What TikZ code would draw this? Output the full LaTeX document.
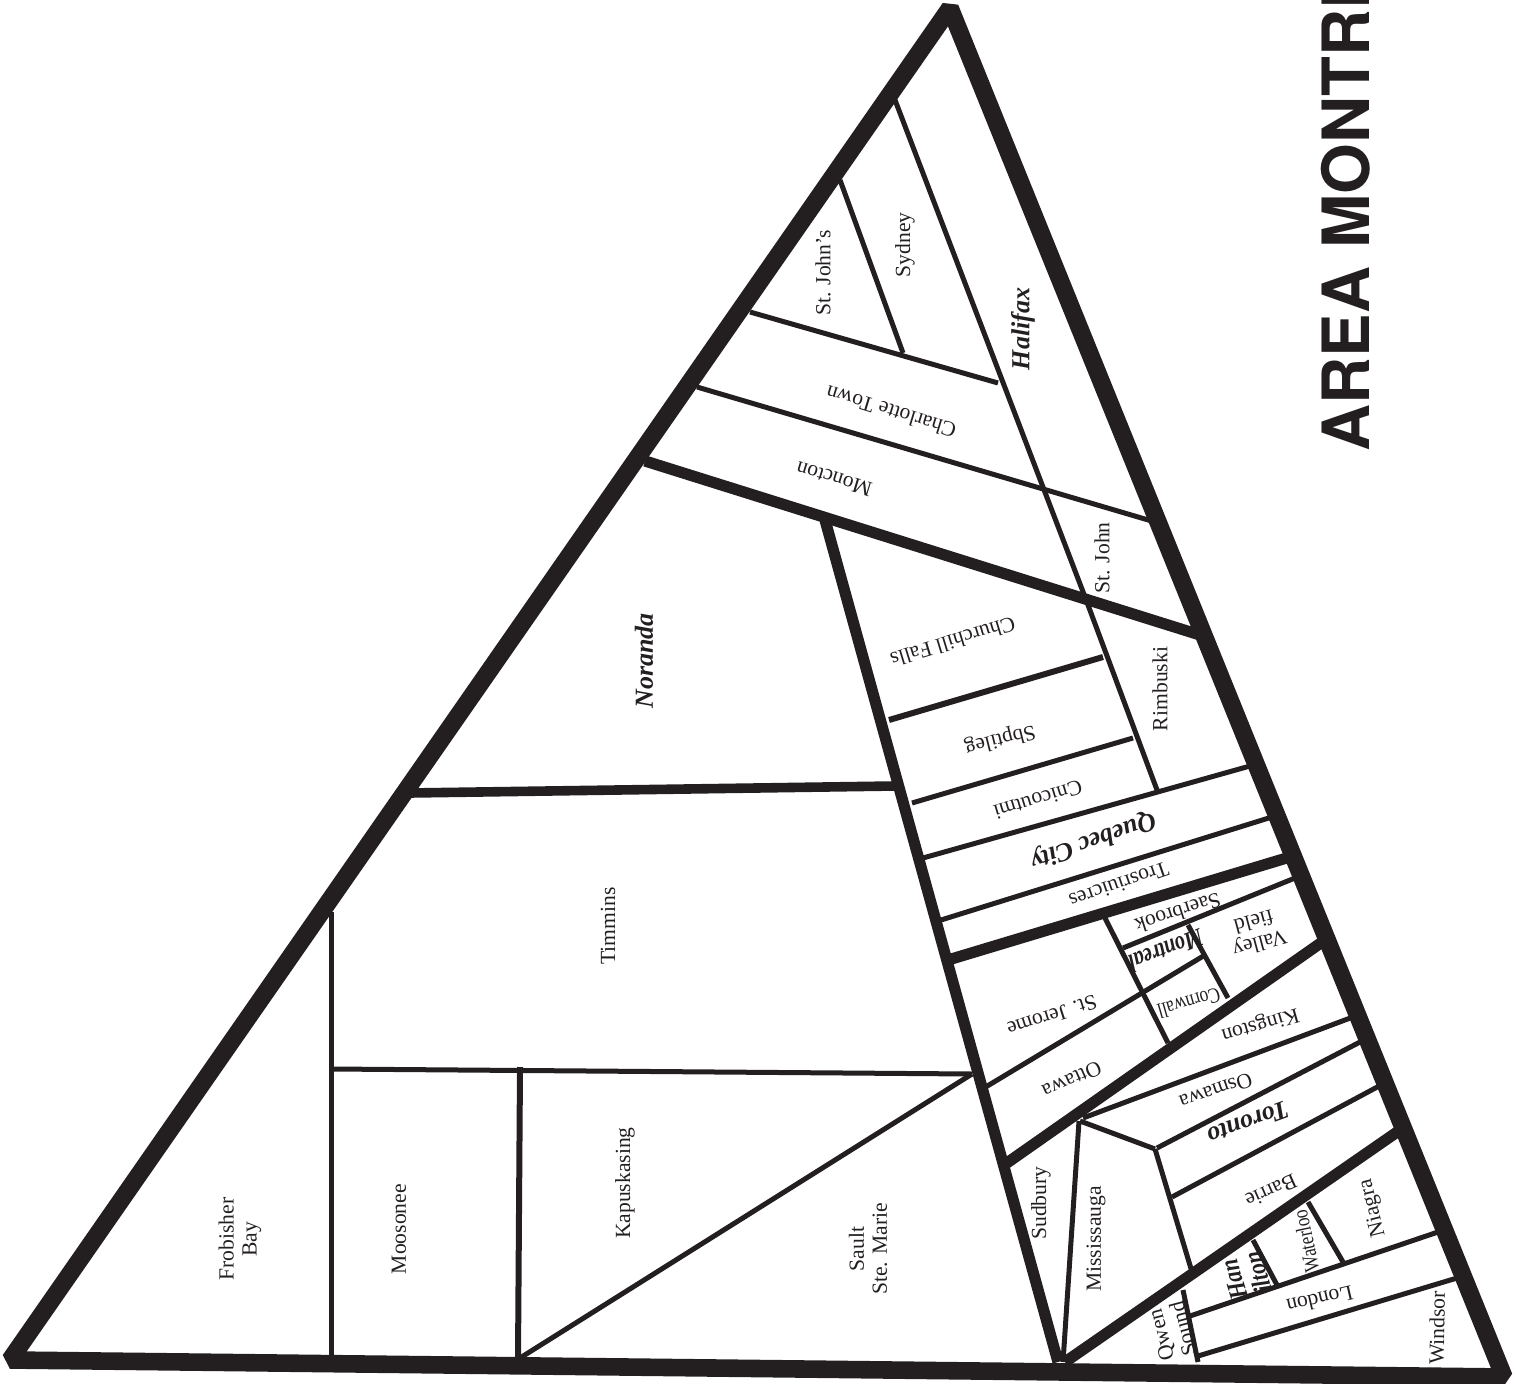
\documentclass[tikz,border=0pt]{standalone}
\usepackage{fontspec}
\setmainfont{Liberation Serif}
\setsansfont{TeX Gyre Heros}
\usepackage{xcolor}
\usepackage{tikz}
\definecolor{inkblack}{HTML}{231F20}
\tikzset{
    border/.style={draw=inkblack, line width=8.8pt, line join=bevel},
    heavyline/.style={draw=inkblack, line width=5.6pt},
    midline/.style={draw=inkblack, line width=3pt},
    thinline/.style={draw=inkblack, line width=2.5pt},
    city/.style={font=\fontsize{10.8}{11.5}\selectfont, text=inkblack, align=center, inner sep=0pt},
    capital/.style={font=\fontsize{13}{12.5}\selectfont\bfseries\itshape, text=inkblack, align=center, inner sep=0pt},
}
\begin{document}
\begin{tikzpicture}[x=0.5pt, y=-0.5pt]
\clip (0,0) rectangle (1518,1384);

% Thin dividers
\foreach \xa/\ya/\xb/\yb in {
    331/912/331/1357, 331/1069/972/1074, 972/1074/520/1358,
    750/312/998/383, 697/387/1155/522, 840/180/903/353,
    895/100/1085/597, 1085/597/1157/790,
    1133/738/912/803, 1250/766/923/858, 1272/817/941/920,
    1295/878/1123/948, 1105/918/1168/1043, 1188/925/1228/998,
    984/1088/1205/955, 1353/1017/1083/1118, 1360/1042/1157/1148,
    1080/1121/1155/1149, 1155/1149/1192/1272, 1079/1121/1063/1362,
    1381/1085/1172/1197, 1308/1202/1343/1262, 1253/1240/1277/1285,
    1438/1232/1190/1316, 1457/1278/1198/1356, 1183/1290/1198/1362}{
    \draw[thinline] (\xa,\ya) -- (\xb,\yb);
}
\draw[midline] (1103,657) -- (889,720);
\draw[midline] (520,1067) -- (518,1358);

% Heavy dividers
\draw[heavyline, line width=4.8pt] (410,793) -- (895,786);
\foreach \xa/\ya/\xb/\yb in {
    645/461/1200/635, 825/520/1058/1362,
    1290/857/948/960, 1325/940/1004/1165, 1400/1130/1065/1362}{
    \draw[heavyline] (\xa,\ya) -- (\xb,\yb);
}

% Outer triangle
\draw[border] (950,8) -- (10,1360) -- (1504,1377) -- cycle;

% West side
\node[city, rotate=90] (frobisher) at (240,1239) {Frobisher\\Bay};
\node[city, rotate=90] (moosonee) at (399,1229) {Moosonee};
\node[city, rotate=90] (kapuskasing) at (625,1183) {Kapuskasing};
\node[city, rotate=90] (sault) at (868,1249) {Sault\\Ste. Marie};
\node[city, rotate=90] (timmins) at (608,926) {Timmins};
\node[capital, rotate=90] (noranda) at (644,661) {Noranda};

% East coast
\node[capital, rotate=90] (halifax) at (1023,329) {Halifax};
\node[city, rotate=90] (sydney) at (905,245) {Sydney};
\node[city, rotate=90] (stjohns) at (823,273) {St. John’s};
\node[city, rotate=163] (charlotte) at (891,412) {Charlotte Town};
\node[city, rotate=163] (moncton) at (834,479) {Moncton};
\node[city, rotate=90] (stjohn) at (1102,558) {St. John};
\node[city, rotate=90] (rimbuski) at (1160,689) {Rimbuski};

% Quebec
\node[city, rotate=197] (churchill) at (953,642) {Churchill Falls};
\node[city, rotate=194] (sbptileg) at (1000,739) {Sbptileg};
\node[city, rotate=197] (cnicoutmi) at (1038,800) {Cnicoutmi};
\node[capital, rotate=199] (quebec) at (1093,840) {Quebec City};
\node[city, rotate=199] (trois) at (1119,885) {Trosriuicres};
\node[city, rotate=198] (saerbrook) at (1178,913) {Saerbrook};
\node[city, rotate=195] (valley) at (1257,933) {Valley\\field};

% Montreal block
\node[capital, rotate=201, xscale=0.78] (montreal) at (1166,951) {Montreal};
\node[city, rotate=196, xscale=0.8] (cornwall) at (1189,1003) {Cornwall};
\node[city, rotate=198] (stjerome) at (1052,1016) {St. Jerome};
\node[city, rotate=204] (ottawa) at (1072,1080) {Ottawa};

% Toronto block
\node[city, rotate=196] (kingston) at (1260,1024) {Kingston};
\node[city, rotate=199] (osmawa) at (1216,1091) {Osmawa};
\node[capital, rotate=200] (toronto) at (1248,1123) {Toronto};
\node[city, rotate=204] (barrie) at (1271,1191) {Barrie};
\node[city, rotate=90] (sudbury) at (1041,1203) {Sudbury};
\node[city, rotate=90] (mississauga) at (1096,1239) {Mississauga};

% South-west
\node[city, rotate=104] (niagara) at (1373,1208) {Niagra};
\node[city, rotate=102, xscale=0.8] (waterloo) at (1306,1241) {Waterloo};
\node[capital, rotate=107, xscale=0.85] (hamilton) at (1246,1276) {Han\\ilton};
\node[city, rotate=193] (london) at (1320,1300) {London};
\node[city, rotate=89] (windsor) at (1437,1328) {Windsor};
\node[city, rotate=105] (owen) at (1172,1332) {Qwen\\Sound};

% Title
\node[font=\fontsize{32.6}{34}\selectfont\sffamily\bfseries, text=inkblack, rotate=90, anchor=base west, inner sep=0pt] (title) at (1369,452) {AREA MONTRE};
\end{tikzpicture}
\end{document}
